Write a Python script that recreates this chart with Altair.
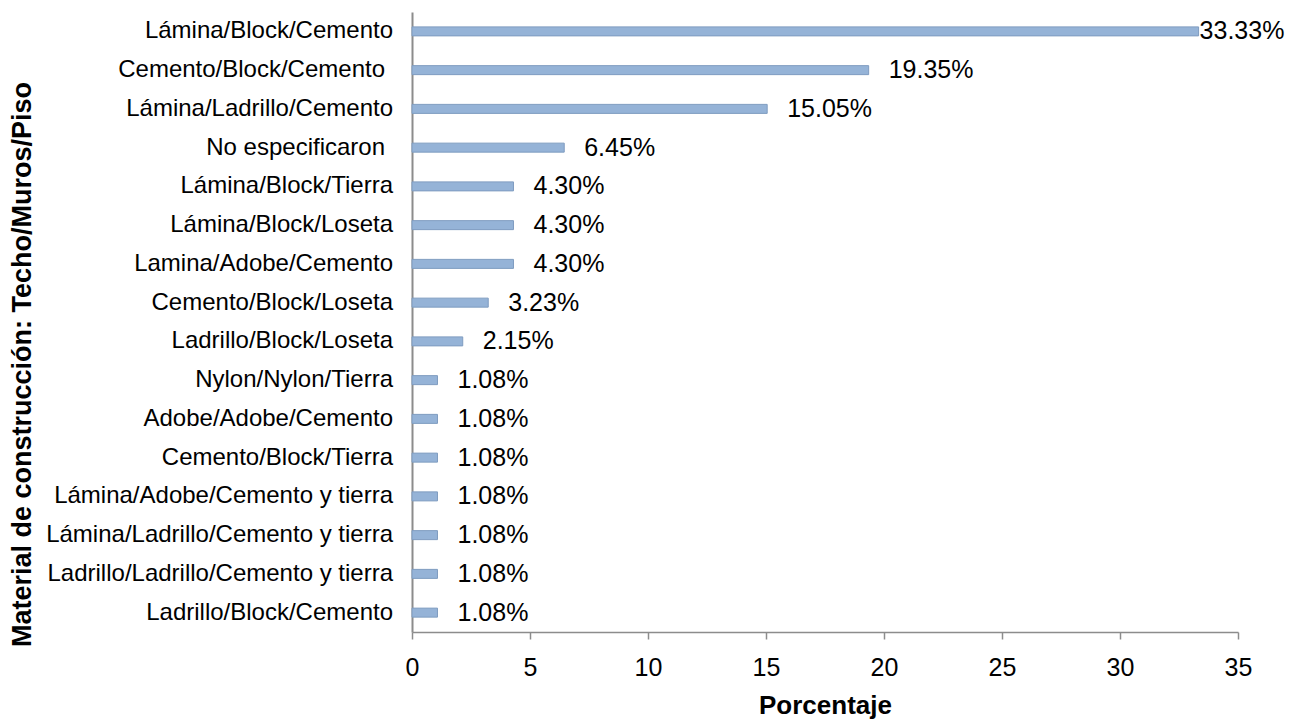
import altair as alt
import pandas as pd

categories = [
    "Lámina/Block/Cemento",
    "Cemento/Block/Cemento ",
    "Lámina/Ladrillo/Cemento",
    "No especificaron ",
    "Lámina/Block/Tierra",
    "Lámina/Block/Loseta",
    "Lamina/Adobe/Cemento",
    "Cemento/Block/Loseta",
    "Ladrillo/Block/Loseta",
    "Nylon/Nylon/Tierra",
    "Adobe/Adobe/Cemento",
    "Cemento/Block/Tierra",
    "Lámina/Adobe/Cemento y tierra",
    "Lámina/Ladrillo/Cemento y tierra",
    "Ladrillo/Ladrillo/Cemento y tierra",
    "Ladrillo/Block/Cemento",
]
values = [33.33, 19.35, 15.05, 6.45, 4.30, 4.30, 4.30, 3.23, 2.15,
          1.08, 1.08, 1.08, 1.08, 1.08, 1.08, 1.08]
labels = ["33.33%", "19.35%", "15.05%", "6.45%", "4.30%", "4.30%", "4.30%",
          "3.23%", "2.15%", "1.08%", "1.08%", "1.08%", "1.08%", "1.08%",
          "1.08%", "1.08%"]
x_ticks = [0, 5, 10, 15, 20, 25, 30, 35]

df = pd.DataFrame({"cat": categories, "val": values, "lab": labels})

FONT = "Liberation Sans"

x_enc = alt.X(
    "val:Q",
    scale=alt.Scale(domain=[0, 35], nice=False),
    axis=alt.Axis(
        values=x_ticks, title="Porcentaje", grid=False,
        domainColor="#8C8C8C", domainWidth=1.5, tickColor="#8C8C8C",
        tickSize=7, tickWidth=1.5, labelFontSize=25, labelColor="#000000",
        labelFont=FONT, labelPadding=16, titleFont=FONT, titleFontSize=26,
        titleFontWeight="bold", titleColor="#000000", titlePadding=12,
        labelFlush=False,
    ),
)
y_sorted = alt.Y("cat:N", sort=categories,
                 scale=alt.Scale(paddingInner=0, paddingOuter=0))
y_enc = alt.Y(
    "cat:N", sort=categories,
    scale=alt.Scale(paddingInner=0, paddingOuter=0),
    axis=alt.Axis(
        title="Material de construcción: Techo/Muros/Piso", ticks=False,
        labels=False, domainColor="#8C8C8C", domainWidth=2,
        titleFont=FONT, titleFontSize=27, titleFontWeight="bold",
        titleColor="#000000", titleX=-376, titleY=352, titleAngle=270,
    ),
)

bars = alt.Chart(df).mark_bar(
    size=9, color="#95B3D7", stroke="#7F9CC0", strokeWidth=1
).encode(x=x_enc, y=y_enc)

cat_labels = alt.Chart(df).mark_text(
    align="right", baseline="middle", fontSize=24, font=FONT, color="#000000",
    dx=alt.expr("datum.cat !== trim(datum.cat) ? -8 : 0"),
).encode(x=alt.value(-19), y=y_sorted, text="cat:N")

text_vals = alt.Chart(df).mark_text(
    align="left", baseline="middle", fontSize=25, font=FONT, color="#000000",
    dx=alt.expr("datum.val >= 30 ? 1 : 20"),
).encode(x="val:Q", y=y_sorted, text="lab:N")

chart = alt.layer(bars, cat_labels, text_vals).properties(
    width=826, height=620,
    autosize=alt.AutoSizeParams(type="none"),
    padding={"left": 412, "top": 12, "right": 70, "bottom": 91},
).configure(background="#FFFFFF").configure_view(stroke=None)

chart.save("out.html", embed_options={"renderer": "svg", "actions": False})
